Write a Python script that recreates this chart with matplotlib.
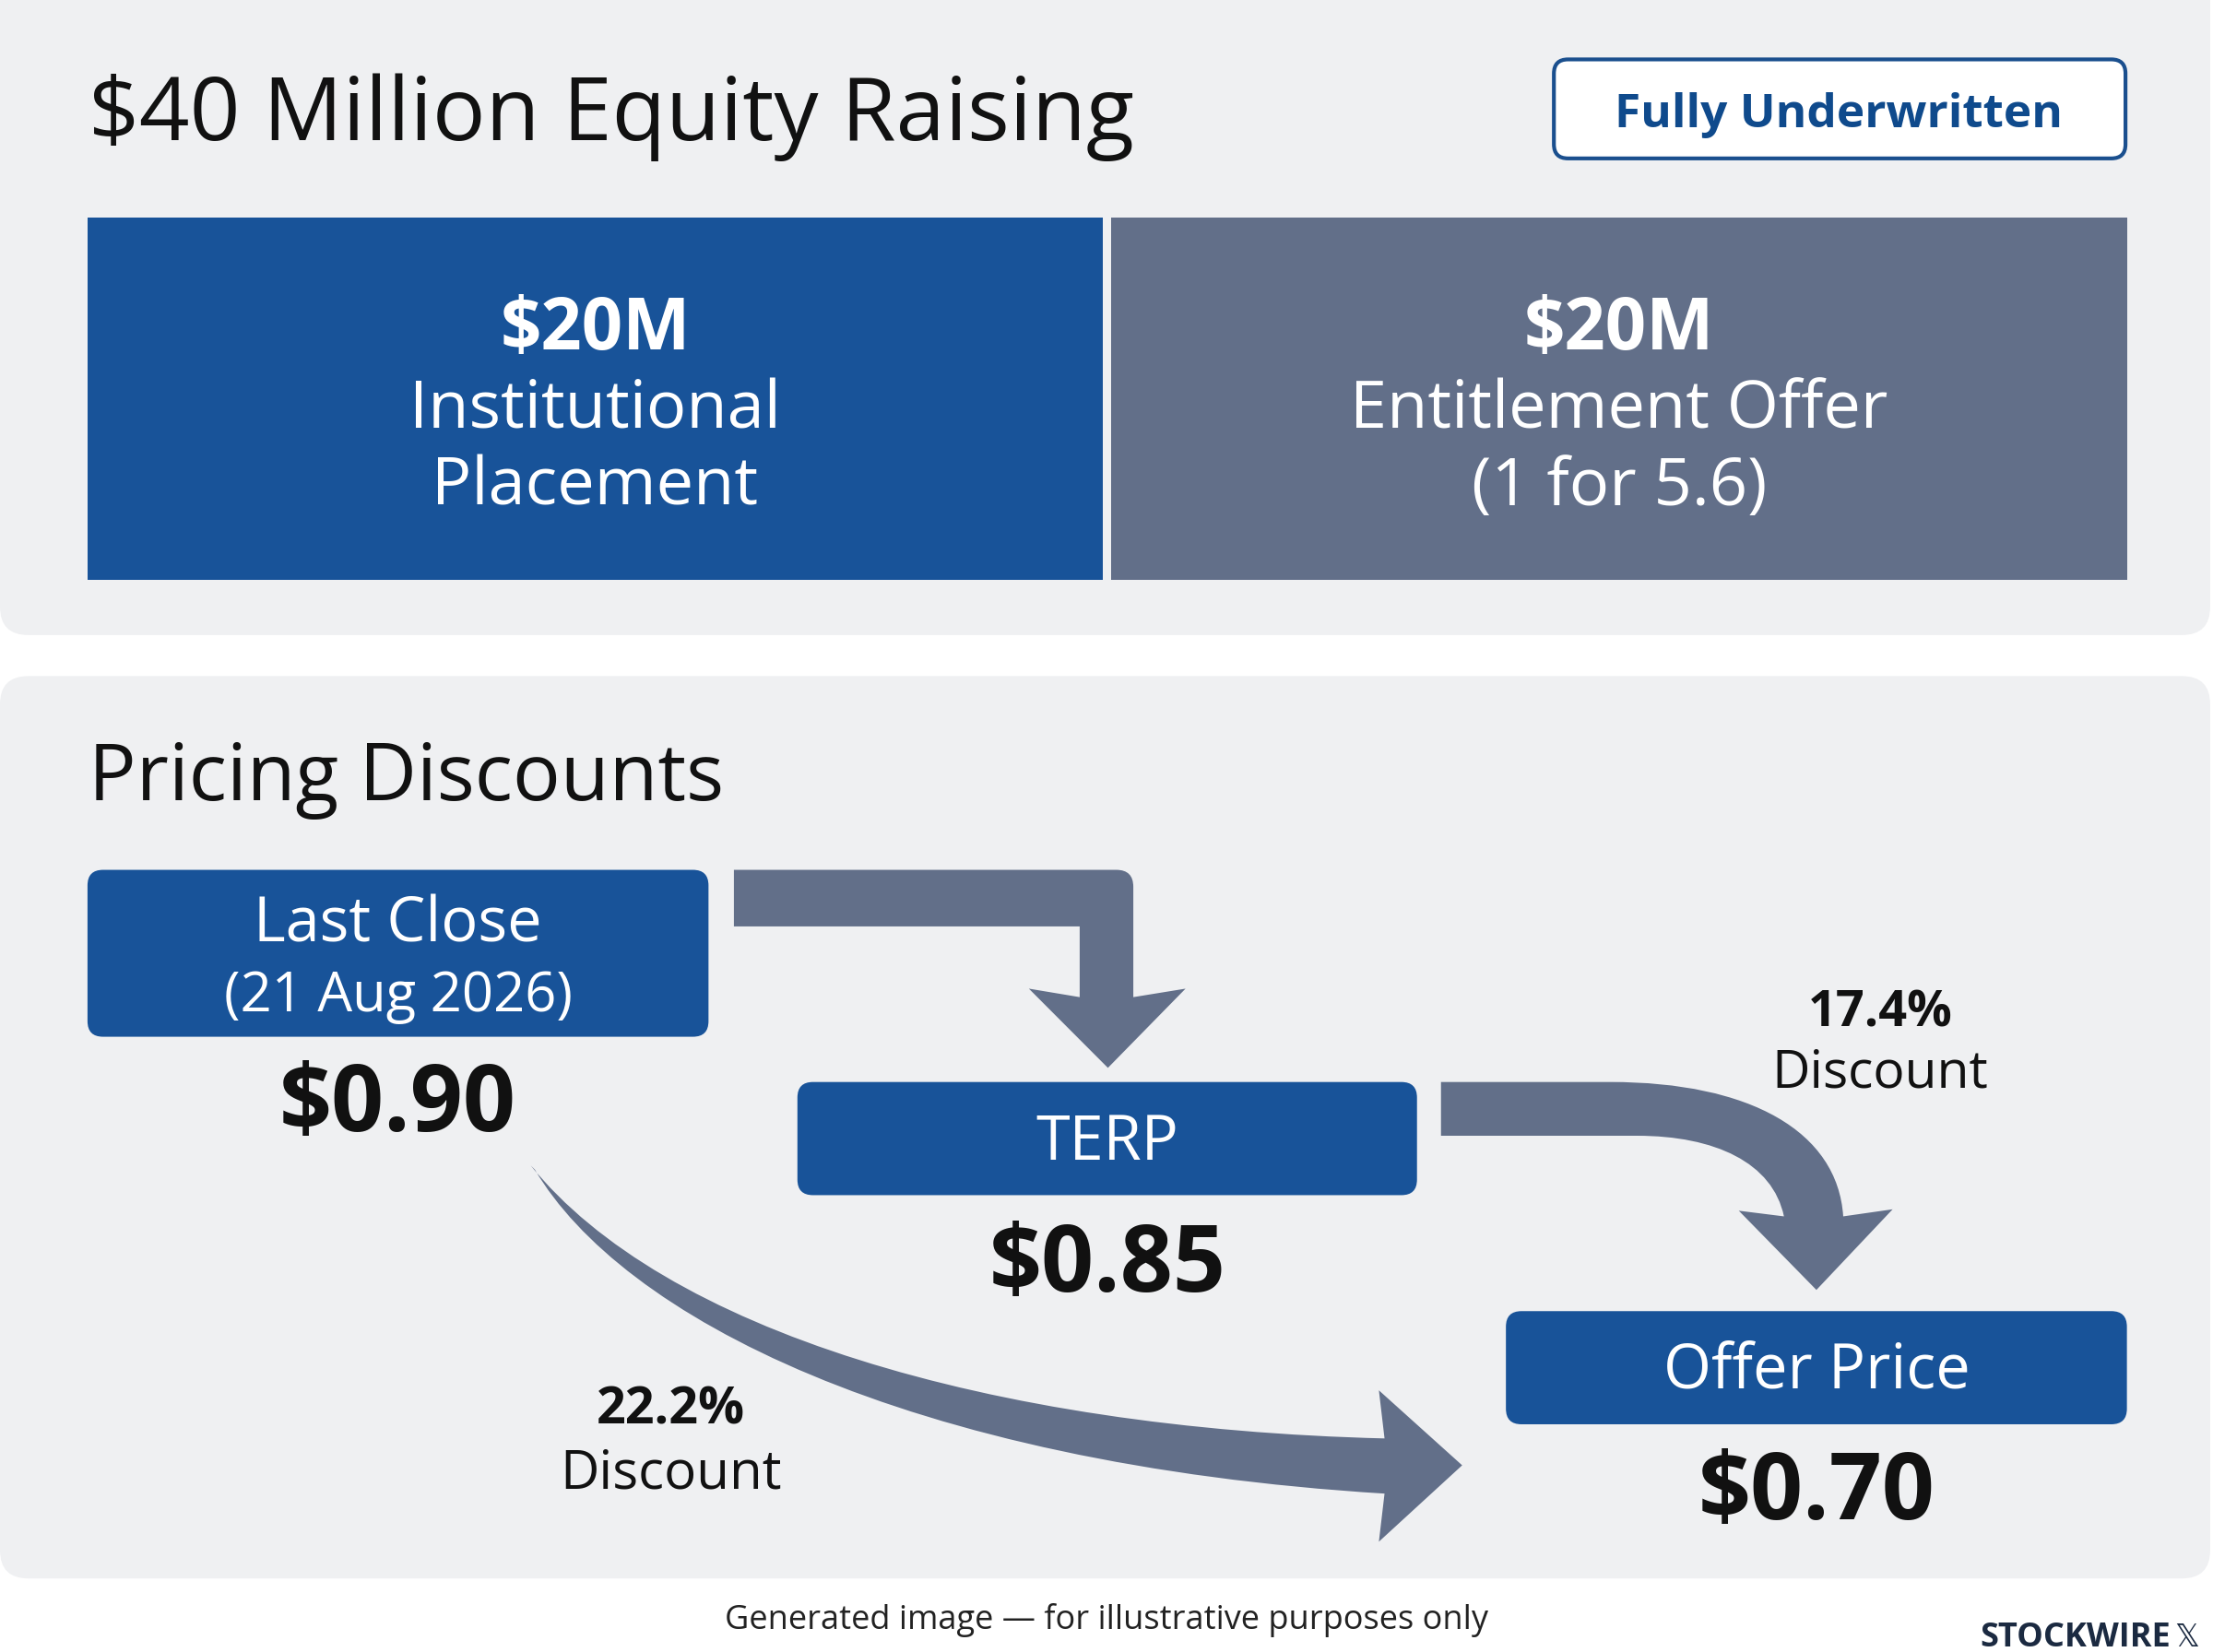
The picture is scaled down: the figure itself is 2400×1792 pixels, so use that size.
import numpy as np
import matplotlib.pyplot as plt
from matplotlib.patches import FancyBboxPatch, Rectangle, PathPatch
from matplotlib.path import Path

# chart values
title = '$40 Million Equity Raising'
badge = 'Fully Underwritten'
tranche_amounts = [20, 20]  # $M
tranche_names = [['Institutional', 'Placement'], ['Entitlement Offer', '(1 for 5.6)']]
price_names = ['Last Close', 'TERP', 'Offer Price']
price_dates = ['(21 Aug 2026)', '', '']
prices = [0.90, 0.85, 0.70]
discounts = [17.4, 22.2]  # TERP -> offer, last close -> offer

BLUE = '#185399'
SLATE = '#626f89'
PANEL = '#eff0f2'
INK = '#111111'

plt.rcParams['font.family'] = ['Open Sans', 'DejaVu Sans']

W, H = 1568, 1168
fig = plt.figure(figsize=(24, 17.92), dpi=100)
fig.patch.set_facecolor('white')
ax = fig.add_axes([0, 0, 1, 1])
ax.set_xlim(0, W)
ax.set_ylim(H, 0)
ax.axis('off')


def rbox(x, y, w, h, r, **kw):
    p = FancyBboxPatch((x, y), w, h, boxstyle='round,pad=0,rounding_size=%g' % r, **kw)
    ax.add_patch(p)
    return p


def txt(x, y, s, size, weight='normal', color=INK, ha='center'):
    ax.text(x, y, s, fontsize=size, fontweight=weight, color=color, ha=ha, va='baseline')


# panels
rbox(0, -30, 1566, 479, 20, facecolor=PANEL, edgecolor='none')
rbox(0, 478, 1566, 638, 20, facecolor=PANEL, edgecolor='none')

# ---- top: equity raising split ----
txt(63, 99, title, 69, ha='left')
rbox(1101, 42, 405, 70, 10, facecolor='white', edgecolor='#1a4f8e', lw=3)
txt(1303, 90, badge, 37, weight='bold', color='#0f4a8c')

x0, x1, gap = 62, 1507, 6
tot = sum(tranche_amounts)
widths = [(x1 - x0 - gap) * a / tot for a in tranche_amounts]
xs = [x0, x0 + widths[0] + gap]
for i, (amt, names) in enumerate(zip(tranche_amounts, tranche_names)):
    col = BLUE if i == 0 else SLATE
    ax.add_patch(Rectangle((xs[i], 154), widths[i], 256, facecolor=col, edgecolor='none'))
    cx = xs[i] + widths[i] / 2
    txt(cx, 247, '$%dM' % amt, 56, weight='bold', color='white')
    txt(cx, 303, names[0], 52, color='white')
    txt(cx, 357, names[1], 52, color='white')

# ---- bottom: pricing discounts ----
txt(63, 566, 'Pricing Discounts', 62, ha='left')

boxes = [(62, 615, 440, 118), (565, 765, 439, 80), (1067, 927, 440, 80)]
name_base = [[666, 715], [820], [981]]
value_base = [800, 913, 1074]
for i, (bx, by, bw, bh) in enumerate(boxes):
    rbox(bx, by, bw, bh, 11, facecolor=BLUE, edgecolor='none')
    cx = bx + bw / 2
    txt(cx, name_base[i][0], price_names[i], 48, color='white')
    if price_dates[i]:
        txt(cx, name_base[i][1], price_dates[i], 43, color='white')
    txt(cx, value_base[i], '$%.2f' % prices[i], 72, weight='bold')

# elbow arrow: last close -> TERP
M, L, C3, C4, CL = Path.MOVETO, Path.LINETO, Path.CURVE3, Path.CURVE4, Path.CLOSEPOLY
v = [(520, 615), (791, 615), (803, 615), (803, 627), (803, 705), (840, 699),
     (785, 755), (729, 699), (765, 705), (765, 655), (520, 655), (520, 615)]
c = [M, L, C3, C3, L, L, L, L, L, L, L, CL]
ax.add_patch(PathPatch(Path(v, c), facecolor=SLATE, edgecolor='none'))

# curved arrow: TERP -> offer
v = [(1021, 765), (1141, 765), (1240, 765), (1302, 800), (1306, 860),
     (1341, 855), (1287, 912), (1232, 856), (1264, 860),
     (1256, 822), (1215, 803), (1160, 803), (1021, 803), (1021, 765)]
c = [M, L, C4, C4, C4, L, L, L, L, C4, C4, C4, L, CL]
ax.add_patch(PathPatch(Path(v, c), facecolor=SLATE, edgecolor='none'))

# long arrow: last close -> offer
v = [(376, 824), (470, 940), (700, 1010), (981, 1017),
     (977, 983), (1036, 1036), (977, 1090), (981, 1056),
     (640, 1035), (440, 930), (379, 827), (376, 824)]
c = [M, C4, C4, C4, L, L, L, L, C4, C4, C4, CL]
ax.add_patch(PathPatch(Path(v, c), facecolor=SLATE, edgecolor='none'))

# discount labels
txt(1332, 726, '%.1f%%' % discounts[0], 39, weight='bold')
txt(1332, 769, 'Discount', 41)
txt(475, 1007, '%.1f%%' % discounts[1], 40, weight='bold')
txt(475, 1052, 'Discount', 42)

# footer
txt(784, 1152, 'Generated image \u2014 for illustrative purposes only', 26, color='#222222')
txt(1538, 1164, 'STOCKWIRE', 26, weight='bold', color='#1b2a41', ha='right')
ax.text(1541, 1164, '\U0001D54F', fontsize=24, color='#1b2a41', ha='left', va='baseline',
        family=['DejaVu Sans'])

fig.savefig('out.png', dpi=100)
